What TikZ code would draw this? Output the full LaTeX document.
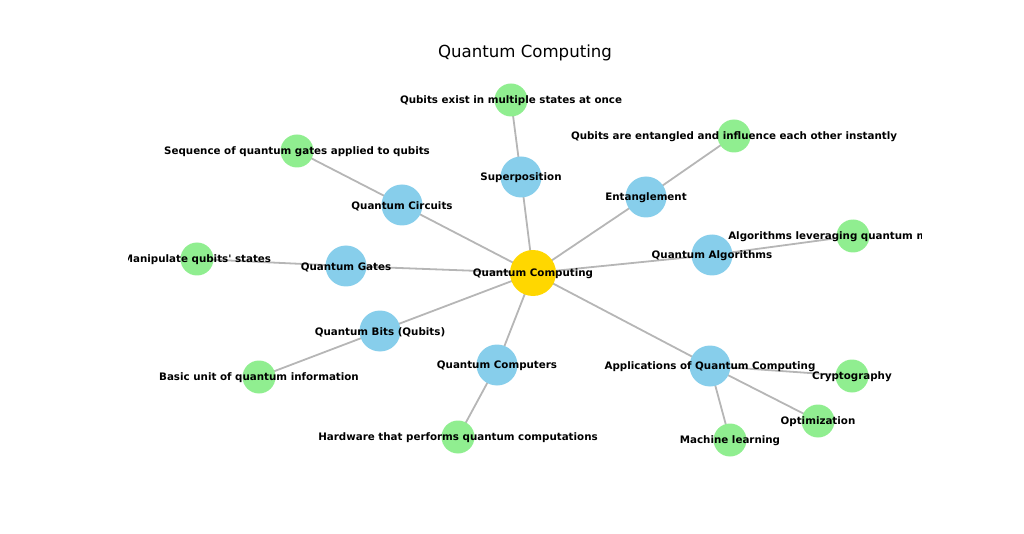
\documentclass[tikz,border=0pt]{standalone}
\usepackage{fontspec}
\setmainfont{DejaVu Sans}
\pgfdeclarelayer{edges}
\pgfsetlayers{edges,main}
\definecolor{hub}{HTML}{FFD700}
\definecolor{topic}{HTML}{87CEEB}
\definecolor{leaf}{HTML}{90EE90}
\definecolor{edgegray}{RGB}{182,182,182}
\tikzset{
  lbl/.style={font=\fontsize{10.3}{12}\selectfont\bfseries, inner sep=0pt, yshift=-1pt},
  hubnode/.style={circle, fill=hub, minimum size=46pt, inner sep=0pt, label={[lbl]center:#1}},
  topicnode/.style={circle, fill=topic, minimum size=41pt, inner sep=0pt, label={[lbl]center:#1}},
  leafnode/.style={circle, fill=leaf, minimum size=33pt, inner sep=0pt, label={[lbl]center:#1}},
  link/.style={draw=edgegray, line width=1.8pt}
}
\begin{document}
\begin{tikzpicture}[x=1pt,y=-1pt]
\useasboundingbox (0,0) rectangle (1024,534);
\node[font=\fontsize{16.6}{19}\selectfont] (title) at (525,53) {Quantum Computing};
\begin{scope}
\clip (128,64) rectangle (921,475);
\node[hubnode={Quantum Computing}] (qc) at (533,273) {};
\node[topicnode={Superposition}] (sup) at (521,177) {};
\node[leafnode={Qubits exist in multiple states at once}] (supl) at (511,100) {};
\node[topicnode={Entanglement}] (ent) at (646,197) {};
\node[leafnode={Qubits are entangled and influence each other instantly}] (entl) at (734,136) {};
\node[topicnode={Quantum Circuits}] (circ) at (402,205) {};
\node[leafnode={Sequence of quantum gates applied to qubits}] (circl) at (297,151) {};
\node[topicnode={Quantum Gates}] (gates) at (346,266) {};
\node[leafnode={Manipulate qubits\textquotesingle\ states}] (gatesl) at (197,259) {};
\node[topicnode={Quantum Algorithms}] (algo) at (712,255) {};
\node[leafnode={Algorithms leveraging quantum mechanics}] (algol) at (853,236) {};
\node[topicnode={Quantum Bits (Qubits)}] (bits) at (380,331) {};
\node[leafnode={Basic unit of quantum information}] (bitsl) at (259,377) {};
\node[topicnode={Quantum Computers}] (comp) at (497,365) {};
\node[leafnode={Hardware that performs quantum computations}] (compl) at (458,437) {};
\node[topicnode={Applications of Quantum Computing}] (app) at (710,366) {};
\node[leafnode={Cryptography}] (crypt) at (852,376) {};
\node[leafnode={Optimization}] (optim) at (818,421) {};
\node[leafnode={Machine learning}] (ml) at (730,440) {};
\end{scope}
\begin{pgfonlayer}{edges}
\foreach \a/\b in {qc/sup,sup/supl,qc/ent,ent/entl,qc/circ,circ/circl,qc/gates,gates/gatesl,
  qc/algo,algo/algol,qc/bits,bits/bitsl,qc/comp,comp/compl,qc/app,app/crypt,app/optim,app/ml}
  \draw[link] (\a.center) -- (\b.center);
\end{pgfonlayer}
\end{tikzpicture}
\end{document}
